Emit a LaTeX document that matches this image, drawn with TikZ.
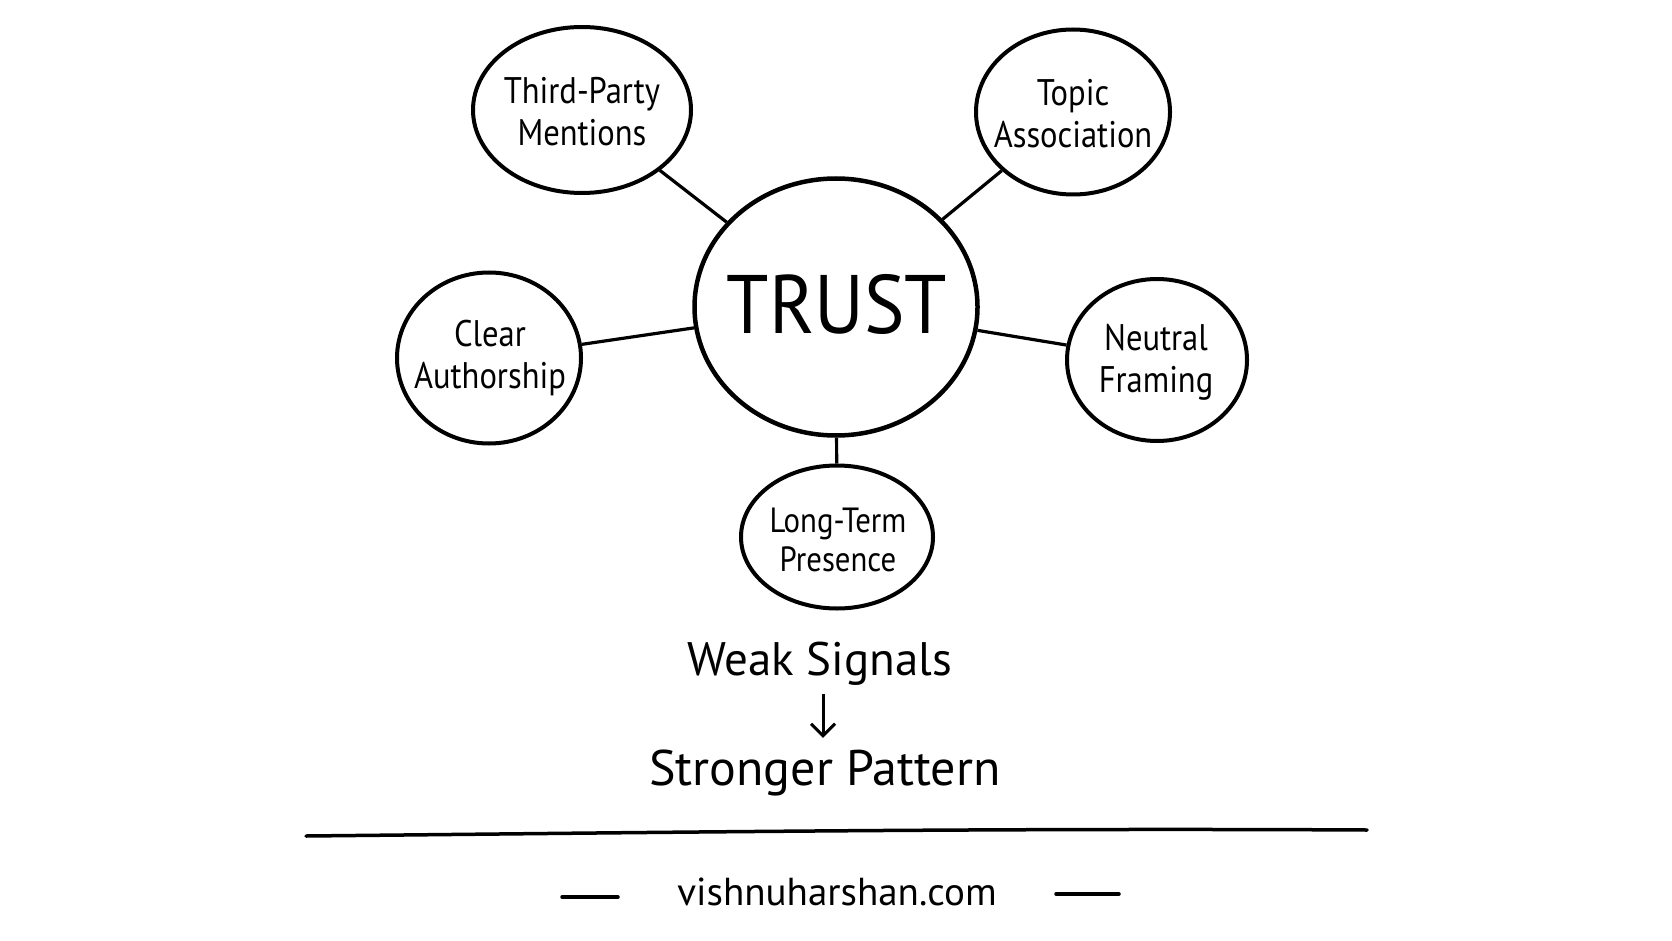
\documentclass[tikz,border=0pt]{standalone}
\usepackage{fontspec}
\setmainfont{PT Sans}
\newfontfamily\narrowfont[FakeStretch=0.88]{PT Sans}
\newfontfamily\trustfont[FakeStretch=0.92]{PT Sans}
\usetikzlibrary{shapes.geometric, arrows.meta}

\begin{document}
\begin{tikzpicture}[x=1pt, y=-1pt,
	bubble/.style={draw, ellipse, line width=4pt, inner sep=0pt},
	bubbletext/.style={align=center, font=\narrowfont\fontsize{37}{42}\selectfont},
	spoke/.style={line width=3.2pt},
	]
	
	% Canvas
	\fill[white] (0,0) rectangle (1672,941);
	\useasboundingbox (0,0) rectangle (1672,941);
	
	% Central circle
	\node[bubble, line width=4.5pt, minimum width=283, minimum height=257] (trust) at (836,307) {};
	\node[font=\trustfont\fontsize{83}{90}\selectfont] (trustlabel) at (837,304) {TRUST};
	
	% Surrounding signals
	\node[bubble, minimum width=218, minimum height=166] (third) at (582,110) {};
	\node[bubbletext] (thirdlabel) at (582,112) {Third-Party\\Mentions};
	
	\node[bubble, minimum width=194, minimum height=165] (topic) at (1073,112) {};
	\node[bubbletext] (topiclabel) at (1073,114) {Topic\\Association};
	
	\node[bubble, minimum width=184, minimum height=171] (clear) at (489,358) {};
	\node[bubbletext] (clearlabel) at (490,358) {Clear\\Authorship};
	
	\node[bubble, minimum width=180, minimum height=162] (neutral) at (1157,360) {};
	\node[bubbletext] (neutrallabel) at (1156,362) {Neutral\\Framing};
	
	\node[bubble, minimum width=192, minimum height=143] (longterm) at (837,537) {};
	\node[bubbletext, font=\narrowfont\fontsize{35}{39}\selectfont] (longtermlabel) at (838,540) {Long-Term\\Presence};
	
	% Spokes
	\draw[spoke] (third) -- (trust);
	\draw[spoke] (topic) -- (trust);
	\draw[spoke] (clear) -- (trust);
	\draw[spoke] (neutral) -- (trust);
	\draw[spoke] (longterm) -- (trust);
	
	% Weak signals -> pattern
	\node[anchor=base, font=\fontsize{47}{52}\selectfont] (weak) at (820,675) {Weak Signals};
	\node[anchor=base, font=\fontsize{50}{56}\selectfont] (pattern) at (825,785) {Stronger Pattern};
	\draw[line width=3pt, -{Straight Barb[length=12pt, width=24pt]}, shorten <=5pt, shorten >=8pt]
		([xshift=3pt]weak.south) -- ([xshift=-2pt]pattern.north);
	
	% Rule
	\draw[line width=3.5pt, line cap=round] (306,836) .. controls (700,832) and (1000,828) .. (1367,830);
	
	% Footer
	\node[anchor=base, font=\fontsize{39}{44}\selectfont] (site) at (837,905) {vishnuharshan.com};
	\draw[line width=3.5pt, line cap=round] (562,897) -- (618,897);
	\draw[line width=3.5pt, line cap=round] (1056,894) -- (1119,894);
	
\end{tikzpicture}
\end{document}
